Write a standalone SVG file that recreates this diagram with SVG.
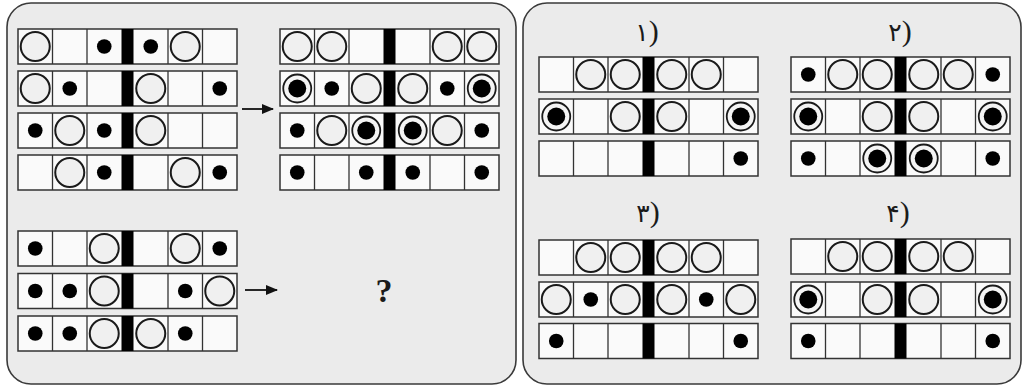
<svg xmlns="http://www.w3.org/2000/svg" width="1026" height="387" viewBox="0 0 1026 387">
<style>
.panel{fill:#ebebeb;stroke:#3a3a3a;stroke-width:1.6}
.frame{fill:#fafafa;stroke:#333;stroke-width:1.5}
.div{stroke:#333;stroke-width:1.3}
.ring{fill:#f0f0f0;stroke:#1a1a1a;stroke-width:2}
.lbl{font-family:"DejaVu Sans",sans-serif;font-size:25px;fill:#1a1a1a;text-anchor:middle}
.par{font-family:"Liberation Serif",serif;font-size:30px}
.q{font-family:"Liberation Serif",serif;font-size:34px;font-weight:bold;fill:#1a1a1a;text-anchor:middle}
.arrow{stroke:#111;stroke-width:1.8;fill:none}
</style>
<defs>
<g id="row">
<rect class="frame" x="0" y="0" width="219" height="35"/>
<line class="div" x1="34.5" y1="0" x2="34.5" y2="35"/>
<line class="div" x1="69" y1="0" x2="69" y2="35"/>
<line class="div" x1="150" y1="0" x2="150" y2="35"/>
<line class="div" x1="184.5" y1="0" x2="184.5" y2="35"/>
<rect x="103.5" y="0" width="12" height="35" fill="#000"/>
</g>
<g id="O"><circle class="ring" r="14.5"/></g>
<g id="d"><circle r="7.3" fill="#000"/></g>
<g id="r"><circle r="14" fill="#f4f4f4" stroke="#1a1a1a" stroke-width="1.8"/><circle r="9" fill="#000"/></g>
<marker id="ah" viewBox="0 0 12 10" refX="11" refY="5" markerWidth="12" markerHeight="10" markerUnits="userSpaceOnUse" orient="auto"><path d="M0,0 L12,5 L0,10 Z" fill="#111"/></marker>
</defs>
<rect width="1026" height="387" fill="#fff"/>
<g id="panel-question"><rect class="panel" x="7" y="3" width="509" height="381" rx="24"/></g>
<g id="panel-options"><rect class="panel" x="523" y="3" width="498" height="381" rx="24"/></g>

<g id="q-top" transform="translate(18,29)">
<g><use href="#row"/><use href="#O" x="17.25" y="17.5"/><use href="#d" x="86.25" y="17.5"/><use href="#d" x="132.75" y="17.5"/><use href="#O" x="167.25" y="17.5"/></g>
<g transform="translate(0,42)"><use href="#row"/><use href="#O" x="17.25" y="17.5"/><use href="#d" x="51.75" y="17.5"/><use href="#O" x="132.75" y="17.5"/><use href="#d" x="201.75" y="17.5"/></g>
<g transform="translate(0,84)"><use href="#row"/><use href="#d" x="17.25" y="17.5"/><use href="#O" x="51.75" y="17.5"/><use href="#d" x="86.25" y="17.5"/><use href="#O" x="132.75" y="17.5"/></g>
<g transform="translate(0,126)"><use href="#row"/><use href="#O" x="51.75" y="17.5"/><use href="#d" x="86.25" y="17.5"/><use href="#O" x="167.25" y="17.5"/><use href="#d" x="201.75" y="17.5"/></g>
</g>

<g id="a-top" transform="translate(280,29)">
<g><use href="#row"/><use href="#O" x="17.25" y="17.5"/><use href="#O" x="51.75" y="17.5"/><use href="#O" x="167.25" y="17.5"/><use href="#O" x="201.75" y="17.5"/></g>
<g transform="translate(0,42)"><use href="#row"/><use href="#r" x="17.25" y="17.5"/><use href="#d" x="51.75" y="17.5"/><use href="#O" x="86.25" y="17.5"/><use href="#O" x="132.75" y="17.5"/><use href="#d" x="167.25" y="17.5"/><use href="#r" x="201.75" y="17.5"/></g>
<g transform="translate(0,84)"><use href="#row"/><use href="#d" x="17.25" y="17.5"/><use href="#O" x="51.75" y="17.5"/><use href="#r" x="86.25" y="17.5"/><use href="#r" x="132.75" y="17.5"/><use href="#O" x="167.25" y="17.5"/><use href="#d" x="201.75" y="17.5"/></g>
<g transform="translate(0,126)"><use href="#row"/><use href="#d" x="17.25" y="17.5"/><use href="#d" x="86.25" y="17.5"/><use href="#d" x="132.75" y="17.5"/><use href="#d" x="201.75" y="17.5"/></g>
</g>

<g id="q-bottom" transform="translate(18,231)">
<g><use href="#row"/><use href="#d" x="17.25" y="17.5"/><use href="#O" x="86.25" y="17.5"/><use href="#O" x="167.25" y="17.5"/><use href="#d" x="201.75" y="17.5"/></g>
<g transform="translate(0,42.5)"><use href="#row"/><use href="#d" x="17.25" y="17.5"/><use href="#d" x="51.75" y="17.5"/><use href="#O" x="86.25" y="17.5"/><use href="#d" x="167.25" y="17.5"/><use href="#O" x="201.75" y="17.5"/></g>
<g transform="translate(0,85)"><use href="#row"/><use href="#d" x="17.25" y="17.5"/><use href="#d" x="51.75" y="17.5"/><use href="#O" x="86.25" y="17.5"/><use href="#O" x="132.75" y="17.5"/><use href="#d" x="167.25" y="17.5"/></g>
</g>

<g id="connectors">
<line class="arrow" x1="242" y1="109" x2="273" y2="109" marker-end="url(#ah)"/>
<line class="arrow" x1="245" y1="290" x2="277" y2="290" marker-end="url(#ah)"/>
</g>
<g id="unknown"><text class="q" x="384" y="302">?</text></g>

<g id="opt1">
<text class="lbl" x="647" y="41">۱<tspan class="par">)</tspan></text>
<g transform="translate(539,57)">
<g><use href="#row"/><use href="#O" x="51.75" y="17.5"/><use href="#O" x="86.25" y="17.5"/><use href="#O" x="132.75" y="17.5"/><use href="#O" x="167.25" y="17.5"/></g>
<g transform="translate(0,42)"><use href="#row"/><use href="#r" x="17.25" y="17.5"/><use href="#O" x="86.25" y="17.5"/><use href="#O" x="132.75" y="17.5"/><use href="#r" x="201.75" y="17.5"/></g>
<g transform="translate(0,84)"><use href="#row"/><use href="#d" x="201.75" y="17.5"/></g>
</g>
</g>

<g id="opt2">
<text class="lbl" x="900" y="41">۲<tspan class="par">)</tspan></text>
<g transform="translate(791,57)">
<g><use href="#row"/><use href="#d" x="17.25" y="17.5"/><use href="#O" x="51.75" y="17.5"/><use href="#O" x="86.25" y="17.5"/><use href="#O" x="132.75" y="17.5"/><use href="#O" x="167.25" y="17.5"/><use href="#d" x="201.75" y="17.5"/></g>
<g transform="translate(0,42)"><use href="#row"/><use href="#r" x="17.25" y="17.5"/><use href="#O" x="86.25" y="17.5"/><use href="#O" x="132.75" y="17.5"/><use href="#r" x="201.75" y="17.5"/></g>
<g transform="translate(0,84)"><use href="#row"/><use href="#d" x="17.25" y="17.5"/><use href="#r" x="86.25" y="17.5"/><use href="#r" x="132.75" y="17.5"/><use href="#d" x="201.75" y="17.5"/></g>
</g>
</g>

<g id="opt3">
<text class="lbl" x="648" y="222">۳<tspan class="par">)</tspan></text>
<g transform="translate(539,240)">
<g><use href="#row"/><use href="#O" x="51.75" y="17.5"/><use href="#O" x="86.25" y="17.5"/><use href="#O" x="132.75" y="17.5"/><use href="#O" x="167.25" y="17.5"/></g>
<g transform="translate(0,42)"><use href="#row"/><use href="#O" x="17.25" y="17.5"/><use href="#d" x="51.75" y="17.5"/><use href="#O" x="86.25" y="17.5"/><use href="#O" x="132.75" y="17.5"/><use href="#d" x="167.25" y="17.5"/><use href="#O" x="201.75" y="17.5"/></g>
<g transform="translate(0,83.5)"><use href="#row"/><use href="#d" x="17.25" y="17.5"/><use href="#d" x="201.75" y="17.5"/></g>
</g>
</g>

<g id="opt4">
<text class="lbl" x="898" y="222">۴<tspan class="par">)</tspan></text>
<g transform="translate(791,239)">
<g><use href="#row"/><use href="#O" x="51.75" y="17.5"/><use href="#O" x="86.25" y="17.5"/><use href="#O" x="132.75" y="17.5"/><use href="#O" x="167.25" y="17.5"/></g>
<g transform="translate(0,43)"><use href="#row"/><use href="#r" x="17.25" y="17.5"/><use href="#O" x="86.25" y="17.5"/><use href="#O" x="132.75" y="17.5"/><use href="#r" x="201.75" y="17.5"/></g>
<g transform="translate(0,84.5)"><use href="#row"/><use href="#d" x="17.25" y="17.5"/><use href="#d" x="201.75" y="17.5"/></g>
</g>
</g>
</svg>
